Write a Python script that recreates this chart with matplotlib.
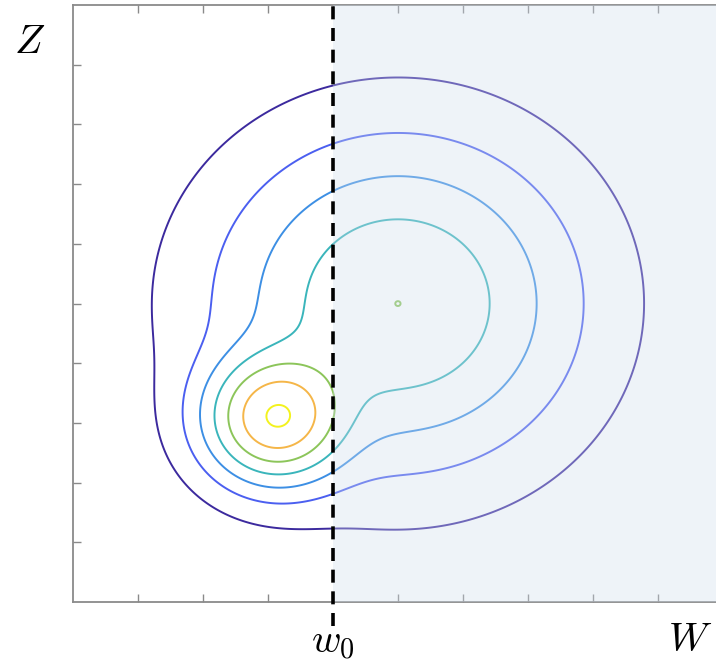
import numpy as np
import matplotlib
matplotlib.use("Agg")
import matplotlib.pyplot as plt
from matplotlib.patches import Rectangle

# Two bumps on the (W, Z) plane, merged with a soft maximum
means_w = [5.0, 3.12]
means_z = [5.0, 3.08]
sigmas = [2.11, 0.87]
heights = [5.0006, 6.77]
merge_power = 2

# Contour levels and their colours (parula-like ramp)
levels = [1, 2, 3, 4, 5, 6, 7]
level_colors = ["#3c2a9e", "#4b5ff0", "#3d8fe4", "#3ab5bb", "#8cc55a", "#f5b648", "#f3f21e"]

w0 = 4.0
x_ticks = [1, 2, 3, 4, 5, 6, 7, 8, 9]
y_ticks = [1, 2, 3, 4, 5, 6, 7, 8, 9]

fig = plt.figure(figsize=(7.16, 6.62), dpi=100)
ax = fig.add_axes([73 / 716, 60 / 662, 650 / 716, 597 / 662])

w = np.linspace(0, 10, 801)
z = np.linspace(0, 10, 801)
W, Z = np.meshgrid(w, z)
acc = np.zeros_like(W)
for mw, mz, s, h in zip(means_w, means_z, sigmas, heights):
    bump = h * np.exp(-((W - mw) ** 2 + (Z - mz) ** 2) / (2 * s ** 2))
    acc += bump ** merge_power
surface = acc ** (1.0 / merge_power)

ax.contour(W, Z, surface, levels=levels, colors=level_colors, linewidths=1.4, zorder=2)

# Shaded half-plane W > w0
ax.add_patch(Rectangle((w0, 0), 10 - w0, 10, facecolor=(0.81, 0.866, 0.93),
                       alpha=0.35, edgecolor="none", zorder=3))
ax.plot([w0, w0], [-0.4, 10], color="black", lw=2.6, ls=(0, (3.6, 2.4)),
        clip_on=False, zorder=4)

ax.set_xlim(0, 10)
ax.set_ylim(0, 10)
ax.set_xticks(x_ticks)
ax.set_yticks(y_ticks)
ax.tick_params(axis="both", which="both", direction="in", length=6, width=1,
               color="#8a8a8a", labelleft=False, labelbottom=False,
               top=True, right=False)
for side in ["left", "bottom", "top"]:
    ax.spines[side].set_color("#8a8a8a")
    ax.spines[side].set_linewidth(1.3)
ax.spines["right"].set_visible(False)

plt.rcParams["mathtext.fontset"] = "cm"
fig.text(30 / 716, 1 - 42 / 662, r"$Z$", fontsize=29, ha="center", va="center")
fig.text(690 / 716, 1 - 640 / 662, r"$W$", fontsize=29, ha="center", va="center")
fig.text(333 / 716, 1 - 642 / 662, r"$w_0$", fontsize=29, ha="center", va="center")

fig.savefig("out.png", dpi=100)
